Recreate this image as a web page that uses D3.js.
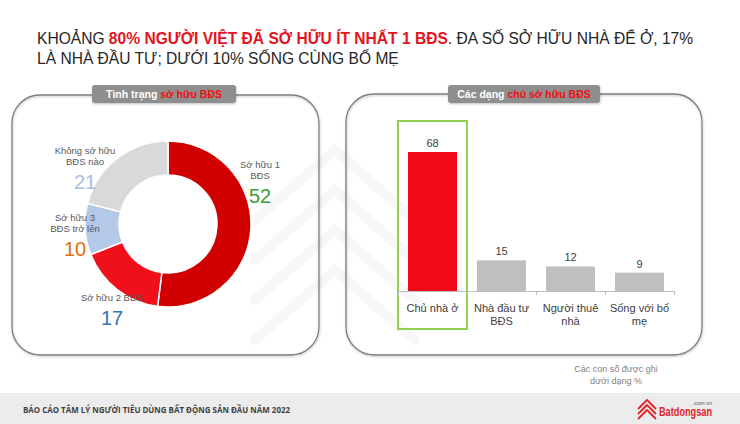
<!DOCTYPE html>
<html>
<head>
<meta charset="utf-8">
<script src="https://cdn.jsdelivr.net/npm/d3@7"></script>
<style>
  html, body { margin: 0; padding: 0; background: #fff; }
  svg { display: block; }
</style>
</head>
<body>
<svg id="chart" width="740" height="424"></svg>
<script>
// ---------- data ----------
const donutLabels = [["Sở hữu 1", "BĐS"], ["Sở hữu 2 BĐS"], ["Sở hữu 3", "BĐS trở lên"], ["Không sở hữu", "BĐS nào"]];
const donutValues = [52, 17, 10, 21];
const donutColors = ["#d10000", "#f0101c", "#b4c8e8", "#d9d9d9"];
const donutValueColors = ["#3f9a33", "#2e75b6", "#e46c0a", "#a9c0e4"];

const barCategories = [["Chủ nhà ở"], ["Nhà đầu tư", "BĐS"], ["Người thuê", "nhà"], ["Sống với bố", "mẹ"]];
const barValues = [68, 15, 12, 9];
const barColors = ["#f00a17", "#bfbfbf", "#bfbfbf", "#bfbfbf"];

// ---------- svg ----------
const svg = d3.select("#chart");
const defs = svg.append("defs");
const sh = defs.append("filter").attr("id", "sh").attr("x", "-10%").attr("y", "-10%").attr("width", "120%").attr("height", "130%");
sh.append("feDropShadow").attr("dx", 0.5).attr("dy", 1).attr("stdDeviation", 1).attr("flood-color", "#000").attr("flood-opacity", 0.25);

// watermark chevrons (very faint)
const wm = svg.append("g").attr("fill", "none").attr("stroke", "#f7f7f7").attr("stroke-width", 10).attr("stroke-linejoin", "round").attr("stroke-linecap", "round");
[0, 1, 2, 3].forEach(i => {
  const cx = 335, cy = 160 + i * 40;
  wm.append("path").attr("d", `M${cx - 80},${cy + 60} L${cx},${cy - 10} L${cx + 80},${cy + 60}`);
});

// ---------- title ----------
const tFont = "Liberation Sans, Arial, sans-serif";
const l1 = svg.append("text").attr("transform", "translate(37,44) scale(1,1.09)")
  .attr("font-family", tFont).attr("font-size", 15.6).attr("fill", "#262626");
l1.append("tspan").text("KHOẢNG ");
l1.append("tspan").attr("fill", "#e3141e").attr("font-weight", "bold").text("80% NGƯỜI VIỆT ĐÃ SỞ HỮU ÍT NHẤT 1 BĐS");
l1.append("tspan").text(". ĐA SỐ SỞ HỮU NHÀ ĐỂ Ở, 17%");
svg.append("text").attr("transform", "translate(37,64) scale(1,1.09)")
  .attr("font-family", tFont).attr("font-size", 15.6).attr("fill", "#262626")
  .text("LÀ NHÀ ĐẦU TƯ; DƯỚI 10% SỐNG CÙNG BỐ MẸ");

// ---------- panels ----------
function panel(x0, x1, y0, y1, cx, w, white, red) {
  svg.append("rect").attr("x", x0).attr("y", y0).attr("width", x1 - x0).attr("height", y1 - y0)
    .attr("rx", 28).attr("ry", 28).attr("fill", "none").attr("stroke", "#7f7f7f").attr("stroke-width", 1.3)
    .attr("filter", "url(#sh)");
  svg.append("rect").attr("x", cx - w / 2).attr("y", 85).attr("width", w).attr("height", 18)
    .attr("rx", 3).attr("fill", "#8f8f8f").attr("filter", "url(#sh)");
  const t = svg.append("text").attr("x", cx).attr("y", 98).attr("text-anchor", "middle")
    .attr("font-family", "Liberation Sans, Arial, sans-serif").attr("font-size", 10.5).attr("font-weight", "bold");
  t.append("tspan").attr("fill", "#fff").text(white);
  t.append("tspan").attr("fill", "#f01010").text(red);
}
panel(12, 319, 95, 355, 164, 144, "Tình trạng ", "sở hữu BĐS");
panel(346, 702, 94, 355, 524, 152, "Các dạng ", "chủ sở hữu BĐS");

// ---------- donut ----------
const dcx = 168, dcy = 224, rOut = 83, rIn = 49;
const pie = d3.pie().sort(null).value(d => d).startAngle(0).endAngle(2 * Math.PI);
const arcs = pie(donutValues);
const arc = d3.arc().innerRadius(rIn).outerRadius(rOut);
const dg = svg.append("g").attr("transform", `translate(${dcx},${dcy})`);
dg.selectAll("path").data(arcs).join("path")
  .attr("d", arc).attr("fill", (d, i) => donutColors[i]).attr("stroke", "#fff").attr("stroke-width", 1.5);

const labelPos = [[260, 168], [112, 301], [75, 221], [85, 154]];
donutLabels.forEach((lines, i) => {
  const [lx, ly] = labelPos[i];
  const g = svg.append("g").attr("font-family", "Liberation Sans, Arial, sans-serif").attr("text-anchor", "middle");
  lines.forEach((s, j) => {
    g.append("text").attr("x", lx).attr("y", ly + j * 10.5).attr("font-size", 9.5).attr("fill", "#595959").text(s);
  });
  g.append("text").attr("x", lx).attr("y", ly + (lines.length - 1) * 10.5 + 24)
    .attr("font-size", 20).attr("fill", donutValueColors[i]).text(donutValues[i]);
});

// ---------- bar chart ----------
const x = d3.scaleBand().domain(d3.range(barValues.length)).range([398, 674]).paddingInner(0.29).paddingOuter(0.145);
const y = d3.scaleLinear().domain([0, d3.max(barValues)]).range([291, 152]);

// highlight box around first category
svg.append("rect")
  .attr("x", x(0) - x.step() * x.paddingInner() / 2).attr("y", 121)
  .attr("width", x.step()).attr("height", 208)
  .attr("fill", "none").attr("stroke", "#92d050").attr("stroke-width", 2);

svg.append("g").selectAll("rect").data(barValues).join("rect")
  .attr("x", (d, i) => x(i)).attr("y", d => y(d))
  .attr("width", x.bandwidth()).attr("height", d => y(0) - y(d))
  .attr("fill", (d, i) => barColors[i]);

// axis
const ax = svg.append("g").attr("stroke", "#bfbfbf").attr("stroke-width", 1);
ax.append("line").attr("x1", 398).attr("x2", 674).attr("y1", y(0) + 0.5).attr("y2", y(0) + 0.5);
d3.range(barValues.length + 1).forEach(i => {
  const tx = Math.round(398 + i * x.step()) + 0.5;
  ax.append("line").attr("x1", tx).attr("x2", tx).attr("y1", y(0)).attr("y2", y(0) + 4);
});

svg.append("g").selectAll("text").data(barValues).join("text")
  .attr("x", (d, i) => x(i) + x.bandwidth() / 2).attr("y", d => y(d) - 5)
  .attr("text-anchor", "middle").attr("font-family", "Liberation Sans, Arial, sans-serif")
  .attr("font-size", 11).attr("fill", "#404040").text(d => d);

barCategories.forEach((lines, i) => {
  lines.forEach((s, j) => {
    svg.append("text").attr("x", x(i) + x.bandwidth() / 2).attr("y", 312 + j * 13)
      .attr("text-anchor", "middle").attr("font-family", "Liberation Sans, Arial, sans-serif")
      .attr("font-size", 11).attr("fill", "#404040").text(s);
  });
});

// footnote
["Các con số được ghi", "dưới dạng %"].forEach((s, j) => {
  svg.append("text").attr("x", 616).attr("y", 372 + j * 12).attr("text-anchor", "middle")
    .attr("font-family", "Liberation Sans, Arial, sans-serif").attr("font-size", 9).attr("fill", "#7f7f7f").text(s);
});

// ---------- footer ----------
svg.append("rect").attr("x", 0).attr("y", 393).attr("width", 740).attr("height", 31).attr("fill", "#ececec");
svg.append("text").attr("x", 23).attr("y", 413)
  .attr("font-family", "Open Sans, Liberation Sans, sans-serif").attr("font-size", 8).attr("font-weight", "bold")
  .attr("fill", "#404040").attr("textLength", 267).attr("lengthAdjust", "spacingAndGlyphs")
  .text("BÁO CÁO TÂM LÝ NGƯỜI TIÊU DÙNG BẤT ĐỘNG SẢN ĐẦU NĂM 2022");

// logo
const lg = svg.append("g").attr("fill", "none").attr("stroke", "#e0262b").attr("stroke-width", 1.8).attr("stroke-linejoin", "round");
lg.append("path").attr("d", "M638,409 L647,400 L656,409");
lg.append("path").attr("d", "M638,414 L647,405 L656,414");
lg.append("path").attr("d", "M638,419 L647,410 L656,419");
svg.append("text").attr("x", 659).attr("y", 416).attr("font-family", "Liberation Sans, Arial, sans-serif")
  .attr("font-size", 12).attr("font-weight", "bold").attr("fill", "#e0262b")
  .attr("textLength", 53).attr("lengthAdjust", "spacingAndGlyphs").text("Batdongsan");
svg.append("text").attr("x", 712).attr("y", 405).attr("text-anchor", "end").attr("font-family", "Liberation Sans, Arial, sans-serif")
  .attr("font-size", 5.5).attr("fill", "#555").text(".com.vn");
</script>
</body>
</html>
